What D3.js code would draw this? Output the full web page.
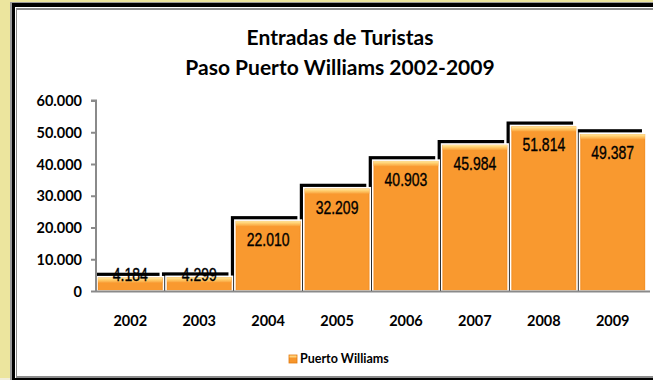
<!DOCTYPE html>
<html><head><meta charset="utf-8">
<script src="https://cdn.jsdelivr.net/npm/d3@7"></script>
<style>
html,body{margin:0;padding:0;background:#F1EEDB;}
svg{display:block;}
</style></head>
<body>
<svg id="chart" width="653" height="380"></svg>
<script>
const years = ["2002","2003","2004","2005","2006","2007","2008","2009"];
const visitors = [4184, 4299, 22010, 32209, 40903, 45984, 51814, 49387];
const valueLabels = ["4.184","4.299","22.010","32.209","40.903","45.984","51.814","49.387"];
const yTicks = [0, 10000, 20000, 30000, 40000, 50000, 60000];
const yTickLabels = ["0","10.000","20.000","30.000","40.000","50.000","60.000"];
const titleLines = ["Entradas de Turistas", "Paso Puerto Williams 2002-2009"];
const seriesName = "Puerto Williams";

const svg = d3.select("#chart");
const W = 653, H = 380;

// frame
svg.append("rect").attr("x",0).attr("y",0).attr("width",W).attr("height",H).attr("fill","#F1EEDB");
svg.append("rect").attr("x",0).attr("y",0).attr("width",W).attr("height",378).attr("fill","#ECE59E");
svg.append("rect").attr("x",10).attr("y",2).attr("width",W-10).attr("height",H).attr("fill","#9A9A9A");
svg.append("rect").attr("x",12).attr("y",3).attr("width",W-12).attr("height",H).attr("fill","#000");
svg.append("rect").attr("x",15).attr("y",7).attr("width",W-15).attr("height",371).attr("fill","#fff");
svg.append("rect").attr("x",16).attr("y",8).attr("width",W-16).attr("height",370).attr("fill","#8C8C8C");
svg.append("rect").attr("x",17).attr("y",10).attr("width",W-17).attr("height",366).attr("fill","#fff");

const defs = svg.append("defs");
const g1 = defs.append("linearGradient").attr("id","barFill").attr("x1","0").attr("x2","1").attr("y1","0").attr("y2","0");
g1.append("stop").attr("offset","0%").attr("stop-color","#F08A1E");
g1.append("stop").attr("offset","4%").attr("stop-color","#F9992F");
g1.append("stop").attr("offset","96%").attr("stop-color","#F9992F");
g1.append("stop").attr("offset","100%").attr("stop-color","#F08A1E");
const g2 = defs.append("linearGradient").attr("id","barTop").attr("x1","0").attr("x2","0").attr("y1","0").attr("y2","1");
g2.append("stop").attr("offset","0%").attr("stop-color","#FFE9A0");
g2.append("stop").attr("offset","50%").attr("stop-color","#FFC865");
g2.append("stop").attr("offset","100%").attr("stop-color","#F9A23C");
defs.append("clipPath").attr("id","plotClip").append("rect")
  .attr("x",97).attr("y",60).attr("width",560).attr("height",231);

// scales
const x = d3.scaleBand().domain(years).range([96,647]).paddingInner(0.035).paddingOuter(0.015);
const y = d3.scaleLinear().domain([0,60000]).range([291,100.5]);

// title
svg.append("g").selectAll("text").data(titleLines).join("text")
  .attr("x",340).attr("y",(d,i)=>45+i*30)
  .attr("text-anchor","middle")
  .attr("font-family","Lato, 'Open Sans', sans-serif").attr("font-weight","bold")
  .attr("font-size",21).attr("fill","#000").text(d=>d);

// shadows
svg.append("g").attr("clip-path","url(#plotClip)").selectAll("rect").data(visitors).join("rect")
  .attr("x",(d,i)=>x(years[i])-4).attr("y",d=>y(d)-5)
  .attr("width",x.bandwidth()).attr("height",d=>291-y(d)+5)
  .attr("fill","#000");

// bars
const bars = svg.append("g");
bars.selectAll("rect.b").data(visitors).join("rect").attr("class","b")
  .attr("x",(d,i)=>x(years[i])).attr("y",d=>y(d)-1)
  .attr("width",x.bandwidth()).attr("height",d=>291-y(d)+1)
  .attr("fill","url(#barFill)").attr("stroke","#fff").attr("stroke-width",1.6);
bars.selectAll("rect.t").data(visitors).join("rect").attr("class","t")
  .attr("x",(d,i)=>x(years[i])+1).attr("y",d=>y(d))
  .attr("width",x.bandwidth()-2).attr("height",5)
  .attr("fill","url(#barTop)");

// value labels (narrow rendering)
svg.append("g").selectAll("text").data(visitors).join("text")
  .attr("transform",(d,i)=>`translate(${x(years[i])+x.bandwidth()/2},${Math.min(y(d)+25, 281)}) scale(0.8,1)`)
  .attr("text-anchor","middle")
  .attr("font-family","'Liberation Sans', Arial, sans-serif")
  .attr("font-size",17.5).attr("fill","#000").attr("stroke","#000").attr("stroke-width",0.35)
  .text((d,i)=>valueLabels[i]);

// y axis
const yAxis = d3.axisLeft(y).tickValues(yTicks).tickSize(5).tickPadding(9)
  .tickFormat((d,i)=>yTickLabels[i]);
const ya = svg.append("g").attr("transform","translate(96,0)").call(yAxis);
ya.select(".domain").attr("stroke","#8A8A8A").attr("stroke-width",2).attr("d","M-5,100.5H0V292");
ya.selectAll(".tick line").attr("stroke","#8A8A8A").attr("stroke-width",2);
ya.selectAll(".tick text").attr("font-family","Lato, 'Open Sans', sans-serif")
  .attr("font-weight","bold").attr("font-size",14.5).attr("fill","#000").attr("dy","0.36em");

// x axis baseline
svg.append("line").attr("x1",96).attr("x2",650).attr("y1",291.5).attr("y2",291.5)
  .attr("stroke","#8A8A8A").attr("stroke-width",2);

// x labels
svg.append("g").selectAll("text").data(years).join("text")
  .attr("x",d=>x(d)+x.bandwidth()/2).attr("y",326)
  .attr("text-anchor","middle")
  .attr("font-family","Lato, 'Open Sans', sans-serif").attr("font-weight","bold")
  .attr("font-size",14.5).attr("fill","#000").text(d=>d);

// legend
const lg = svg.append("g");
lg.append("rect").attr("x",289).attr("y",355).attr("width",8).attr("height",8).attr("fill","#F7962C").attr("stroke","#E07A10").attr("stroke-width",0.8);
lg.append("rect").attr("x",289.5).attr("y",355.5).attr("width",7).attr("height",2).attr("fill","#FFD27A");
lg.append("text").attr("x",300).attr("y",363)
  .attr("font-family","Lato, 'Open Sans', sans-serif").attr("font-weight","bold")
  .attr("font-size",12.5).attr("fill","#000").text(seriesName);
</script>
</body></html>
